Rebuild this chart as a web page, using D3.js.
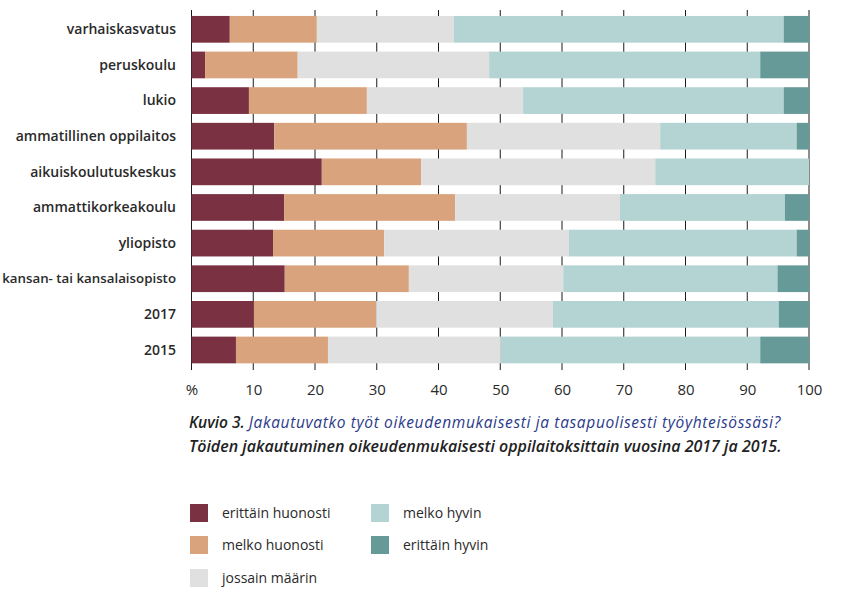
<!DOCTYPE html>
<html>
<head>
<meta charset="utf-8">
<script src="https://cdn.jsdelivr.net/npm/d3@7"></script>
<style>
  html, body { margin: 0; padding: 0; background: #fff; }
  svg { display: block; }
</style>
</head>
<body>
<svg id="chart" width="847" height="603"></svg>
<script>
// ---- data ----
const categories = ["varhaiskasvatus", "peruskoulu", "lukio", "ammatillinen oppilaitos",
  "aikuiskoulutuskeskus", "ammattikorkeakoulu", "yliopisto", "kansan- tai kansalaisopisto", "2017", "2015"];
const seriesNames = ["erittäin huonosti", "melko huonosti", "jossain määrin", "melko hyvin", "erittäin hyvin"];
const erittainHuonosti = [6.2, 2.2, 9.3, 13.4, 21.1, 15.0, 13.2, 15.1, 10.1, 7.2];
const melkoHuonosti    = [14.1, 15.0, 19.1, 31.2, 16.1, 27.7, 18.0, 20.1, 19.8, 14.9];
const jossainMaarin    = [22.2, 31.0, 25.3, 31.3, 37.9, 26.7, 29.9, 25.0, 28.6, 28.0];
const melkoHyvin       = [53.4, 43.9, 42.2, 22.1, 24.9, 26.7, 36.9, 34.7, 36.6, 42.0];
const erittainHyvin    = [4.1, 7.9, 4.1, 2.0, 0.0, 3.9, 2.0, 5.1, 4.9, 7.9];
const tickValues = [0, 10, 20, 30, 40, 50, 60, 70, 80, 90, 100];
const tickLabels = ["%", "10", "20", "30", "40", "50", "60", "70", "80", "90", "100"];
const colors = ["#7a3142", "#d9a47d", "#e0e0e0", "#b4d3d3", "#669a99"];

const seriesValues = [erittainHuonosti, melkoHuonosti, jossainMaarin, melkoHyvin, erittainHyvin];
const rows = categories.map((c, i) => {
  const r = { cat: c };
  seriesNames.forEach((s, j) => r[s] = seriesValues[j][i]);
  return r;
});

const svg = d3.select("#chart");
const x = d3.scaleLinear().domain([0, 100]).range([191.5, 809]);
const y = d3.scaleBand().domain(categories).range([11.5, 367.8]).paddingInner(0.25).paddingOuter(0.125);

// gridlines
svg.append("g").selectAll("line").data(tickValues).join("line")
  .attr("x1", d => x(d)).attr("x2", d => x(d))
  .attr("y1", 10).attr("y2", 370)
  .attr("stroke", "#1a1a1a").attr("stroke-width", 1);

// bars
const stack = d3.stack().keys(seriesNames)(rows);
svg.append("g").selectAll("g").data(stack).join("g")
  .attr("fill", (d, i) => colors[i])
  .selectAll("rect").data(d => d).join("rect")
  .attr("x", d => x(d[0]))
  .attr("width", d => Math.max(0, x(d[1]) - x(d[0])))
  .attr("y", d => y(d.data.cat))
  .attr("height", y.bandwidth());

// category labels
svg.append("g").selectAll("text").data(categories).join("text")
  .attr("x", 176)
  .attr("y", d => y(d) + y.bandwidth() / 2)
  .attr("dy", "0.35em")
  .attr("text-anchor", "end")
  .attr("font-family", "'Open Sans', sans-serif")
  .attr("font-weight", 600)
  .attr("font-size", d => d.length > 24 ? "13.3px" : "14px")
  .attr("fill", "#2a2a2a")
  .text(d => d);

// x axis labels
const xAxis = d3.axisBottom(x).tickValues(tickValues).tickFormat((d, i) => tickLabels[i]).tickSize(0).tickPadding(0);
const ax = svg.append("g").attr("transform", "translate(0,384)").call(xAxis);
ax.select(".domain").remove();
ax.selectAll("text")
  .attr("font-family", "'Open Sans', sans-serif")
  .attr("font-size", "15px")
  .attr("fill", "#2a2a2a");

// caption
const cap1 = svg.append("text").attr("x", 189).attr("y", 428)
  .attr("font-family", "'Open Sans', sans-serif").attr("font-style", "italic").attr("font-size", "15.5px");
cap1.append("tspan").attr("fill", "#222").attr("font-weight", 600).text("Kuvio 3. ");
cap1.append("tspan").attr("fill", "#2b3a8a").attr("letter-spacing", "0.65px")
  .text("Jakautuvatko työt oikeudenmukaisesti ja tasapuolisesti työyhteisössäsi?");
svg.append("text").attr("x", 189).attr("y", 452)
  .attr("font-family", "'Open Sans', sans-serif").attr("font-style", "italic").attr("font-weight", 600)
  .attr("font-size", "16px").attr("fill", "#222")
  .text("Töiden jakautuminen oikeudenmukaisesti oppilaitoksittain vuosina 2017 ja 2015.");

// legend
const legendPos = [[190, 504], [190, 536], [190, 569], [371, 504], [371, 536]];
const lg = svg.append("g").selectAll("g").data(seriesNames).join("g")
  .attr("transform", (d, i) => `translate(${legendPos[i][0]},${legendPos[i][1]})`);
lg.append("rect").attr("width", 18).attr("height", 18).attr("fill", (d, i) => colors[i]);
lg.append("text").attr("x", 32).attr("y", 9).attr("dy", "0.35em")
  .attr("font-family", "'Open Sans', sans-serif").attr("font-size", "14px").attr("fill", "#2a2a2a")
  .text(d => d);
</script>
</body>
</html>
